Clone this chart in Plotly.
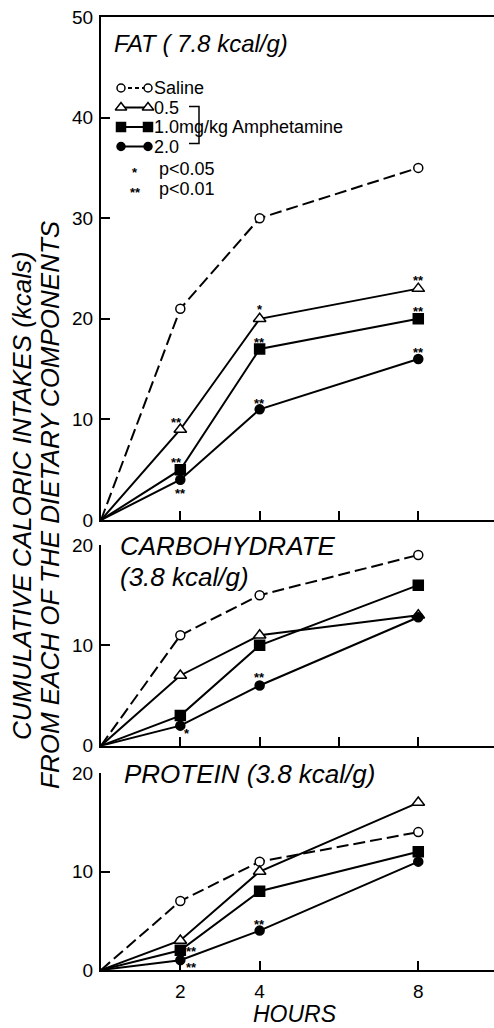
import plotly.graph_objects as go

# ---------------- data ----------------
hours = [0, 2, 4, 8]
series = ["Saline", "0.5", "1.0", "2.0"]
legend_labels = ["Saline", "0.5", "1.0mg/kg Amphetamine", "2.0"]

fat_saline = [0, 21, 30, 35]
fat_05 = [0, 9, 20, 23]
fat_10 = [0, 5, 17, 20]
fat_20 = [0, 4, 11, 16]

carb_saline = [0, 11, 15, 19]
carb_05 = [0, 7, 11, 13]
carb_10 = [0, 3, 10, 16]
carb_20 = [0, 2, 6, 12.8]

prot_saline = [0, 7, 11, 14]
prot_05 = [0, 3, 10, 17]
prot_10 = [0, 2, 8, 12]
prot_20 = [0, 1, 4, 11]

fat_ticks = [0, 10, 20, 30, 40, 50]
small_ticks = [0, 10, 20]
hour_ticks = [2, 4, 6, 8]
hour_ticks_bottom = [2, 4, 8]

# significance marks: (series, hour, label)
fat_sig = [("0.5", 2, "**"), ("1.0", 2, "**"), ("2.0", 2, "**"),
           ("0.5", 4, "*"), ("1.0", 4, "**"), ("2.0", 4, "**"),
           ("0.5", 8, "**"), ("1.0", 8, "**"), ("2.0", 8, "**")]
carb_sig = [("2.0", 2, "*"), ("2.0", 4, "**")]
prot_sig = [("1.0", 2, "**"), ("2.0", 2, "**"), ("2.0", 4, "**")]

# ---------------- layout constants (pixels) ----------------
W, H = 494, 1028
X0_PX = 101
PX_PER_HOUR = 39.66
x_range = [0, (W - X0_PX) / PX_PER_HOUR]
FONT = "Liberation Sans"

def ydom(top, bottom):
    return [1 - bottom / H, 1 - top / H]

panels = [
    dict(name="fat", data=[fat_saline, fat_05, fat_10, fat_20], ax="", top=17, bottom=520,
         yr=[0, 50], yt=fat_ticks, sig=fat_sig,
         sig_off=[(-4, 10), (-4, 10), (0, -11), (0, 12), (0, 9), (0, 9), (0, 11), (0, 10), (0, 10)]),
    dict(name="carb", data=[carb_saline, carb_05, carb_10, carb_20], ax="2", top=545, bottom=745.7,
         yr=[0, 20], yt=small_ticks, sig=carb_sig,
         sig_off=[(7, -5), (0, 11)]),
    dict(name="prot", data=[prot_saline, prot_05, prot_10, prot_20], ax="3", top=773, bottom=970,
         yr=[0, 20], yt=small_ticks, sig=prot_sig,
         sig_off=[(11, 2), (11, -4), (0, 9)]),
]

styles = {
    "Saline": dict(dash="12px,5px", symbol="circle", fill="#ffffff", size=9),
    "0.5": dict(dash="solid", symbol="triangle-up", fill="#ffffff", size=11),
    "1.0": dict(dash="solid", symbol="square", fill="#000000", size=10),
    "2.0": dict(dash="solid", symbol="circle", fill="#000000", size=9),
}

fig = go.Figure()
annotations = []
STAR_CORR = -3
STAR_SIZE = 13

for p in panels:
    xa = "x" + p["ax"]
    ya = "y" + p["ax"]
    for name, vals in zip(series, p["data"]):
        st = styles[name]
        fig.add_trace(go.Scatter(
            x=hours, y=vals, xaxis=xa, yaxis=ya, mode="lines",
            line=dict(color="#000000", width=2, dash=st["dash"]),
            showlegend=False, cliponaxis=False, hoverinfo="skip"))
    for name, vals in zip(series, p["data"]):
        st = styles[name]
        pts = [(h, v) for h, v in zip(hours, vals) if h > 0]
        fig.add_trace(go.Scatter(
            x=[a for a, _ in pts], y=[b for _, b in pts], xaxis=xa, yaxis=ya, mode="markers",
            marker=dict(symbol=st["symbol"], color=st["fill"], size=st["size"], opacity=1,
                        line=dict(color="#000000", width=1.5)),
            showlegend=False, cliponaxis=False, hoverinfo="skip"))
    for (sname, hr, lab), (dx, dy) in zip(p["sig"], p["sig_off"]):
        vals = p["data"][series.index(sname)]
        annotations.append(dict(
            x=hr, y=vals[hours.index(hr)], xref=xa, yref=ya, text="<b>" + lab + "</b>",
            showarrow=False, xshift=dx, yshift=dy + STAR_CORR,
            font=dict(family=FONT, size=STAR_SIZE, color="black")))

axis_common = dict(showline=True, linecolor="black", linewidth=2, ticks="inside",
                   ticklen=9, tickwidth=1.5, tickcolor="black", showgrid=False,
                   zeroline=False, automargin=False,
                   tickfont=dict(family=FONT, size=19, color="black"))

layout = dict(width=W, height=H, margin=dict(l=0, r=0, t=0, b=0, autoexpand=False),
              paper_bgcolor="white", plot_bgcolor="rgba(0,0,0,0)", showlegend=False)

for p in panels:
    suf = p["ax"]
    xkey = "xaxis" + suf
    ykey = "yaxis" + suf
    is_bottom = p["name"] == "prot"
    layout[xkey] = dict(axis_common, domain=[X0_PX / W, 1], range=x_range,
                        anchor="y" + suf,
                        tickvals=hour_ticks_bottom if is_bottom else hour_ticks,
                        showticklabels=is_bottom, ticklabelstandoff=3,
                        mirror=(p["name"] == "fat"))
    layout[ykey] = dict(axis_common, domain=ydom(p["top"], p["bottom"]), range=p["yr"],
                        tickvals=p["yt"], anchor="x" + suf, ticklabelstandoff=2)

# pixel overlay for free text / legend
layout["xaxis4"] = dict(domain=[0, 1], range=[0, W], visible=False, anchor="y4",
                        fixedrange=True, automargin=False)
layout["yaxis4"] = dict(domain=[0, 1], range=[H, 0], visible=False, anchor="x4",
                        fixedrange=True, automargin=False)

def txt(x, y, s, size, xanchor="left", angle=0):
    annotations.append(dict(x=x, y=y, xref="x4", yref="y4", text=s, showarrow=False,
                            xanchor=xanchor, yanchor="middle", textangle=angle,
                            font=dict(family=FONT, size=size, color="black")))

# panel titles
txt(112, 43, "<i>FAT ( 7.8 kcal/g)</i>", 24)
txt(118, 546, "<i>CARBOHYDRATE</i>", 26)
txt(118, 577, "<i>(3.8 kcal/g)</i>", 26)
txt(122, 774, "<i>PROTEIN (3.8 kcal/g)</i>", 26)
txt(295, 1014, "<i>HOURS</i>", 23, xanchor="center")
txt(22, 496, "<i>CUMULATIVE CALORIC INTAKES (kcals)</i>", 26, xanchor="center", angle=-90)
txt(50, 505, "<i>FROM EACH OF THE DIETARY COMPONENTS</i>", 26, xanchor="center", angle=-90)

# legend
LEG_X0, LEG_X1, LEG_Y0, LEG_DY = 121, 148, 88, 19.5
for i, (name, lab) in enumerate(zip(series, legend_labels)):
    st = styles[name]
    yy = LEG_Y0 + i * LEG_DY
    fig.add_trace(go.Scatter(
        x=[LEG_X0, LEG_X1], y=[yy, yy], xaxis="x4", yaxis="y4", mode="lines+markers",
        line=dict(color="#000000", width=2, dash="4px,3px" if name == "Saline" else "solid"),
        marker=dict(symbol=st["symbol"], color=st["fill"], size=st["size"] - 1, opacity=1,
                    line=dict(color="#000000", width=1.5)),
        showlegend=False, cliponaxis=False, hoverinfo="skip"))
    txt(LEG_X1 + 4, yy, lab, 18)

p_labels = [("*", "p<0.05"), ("**", "p<0.01")]
for j, (star, lab) in enumerate(p_labels):
    yy = LEG_Y0 + 4 * LEG_DY + 3 + j * 20
    annotations.append(dict(x=135, y=yy, xref="x4", yref="y4", text="<b>" + star + "</b>",
                            showarrow=False, xanchor="center", yanchor="middle", yshift=STAR_CORR,
                            font=dict(family=FONT, size=STAR_SIZE, color="black")))
    txt(157, yy, lab, 18)

shapes = [dict(type="path", xref="x4", yref="y4",
               path="M 189 {a} L 199 {a} L 199 {b} L 189 {b}".format(a=LEG_Y0 + LEG_DY - 1,
                                                                   b=LEG_Y0 + 3 * LEG_DY - 3),
               line=dict(color="black", width=1.5))]

layout["annotations"] = annotations
layout["shapes"] = shapes
fig.update_layout(**layout)

fig.write_html("out.html", config={"displayModeBar": False},
               post_script="document.body.style.margin='0';document.body.style.overflow='hidden';")
